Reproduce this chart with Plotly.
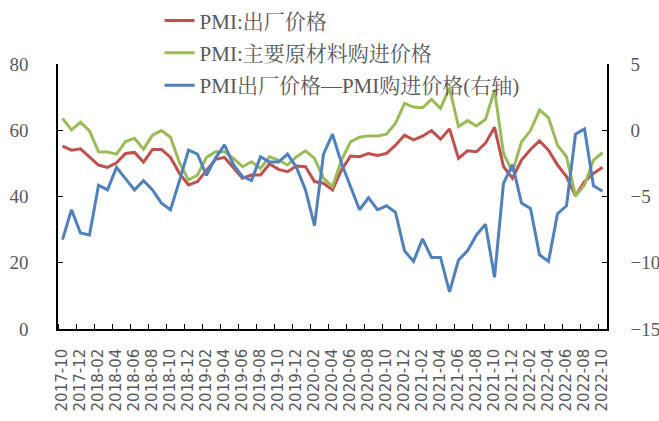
import plotly.graph_objects as go

months = [f"{y}-{m:02d}" for y in range(2017, 2023) for m in range(1, 13)]
months = months[months.index("2017-10"):months.index("2022-10") + 1]

output_price = [55.2, 54.0, 54.4, 52.0, 49.5, 48.8, 50.2, 53.0, 53.3, 50.4,
                54.2, 54.2, 51.8, 47.0, 43.5, 44.5, 48.0, 51.2, 51.8, 48.8,
                45.5, 46.5, 46.5, 49.8, 48.2, 47.5, 49.2, 49.0, 44.5, 44.0,
                42.0, 48.0, 52.2, 52.0, 53.0, 52.4, 53.0, 55.5, 58.5, 57.1,
                58.2, 59.9, 57.3, 60.4, 51.5, 53.8, 53.5, 56.1, 60.9, 49.0,
                45.5, 51.0, 54.2, 56.8, 54.0, 49.5, 46.0, 40.2, 44.5, 47.0,
                48.8]

purchase_price = [63.6, 60.1, 62.4, 59.8, 53.5, 53.4, 52.8, 56.6, 57.6, 54.3,
                  58.5, 59.9, 57.9, 50.2, 45.0, 46.5, 51.8, 53.5, 53.5, 51.5,
                  49.0, 50.5, 48.5, 52.0, 51.0, 49.5, 52.0, 53.8, 51.5, 45.5,
                  43.0, 51.0, 56.5, 57.9, 58.3, 58.3, 58.8, 62.1, 68.1, 67.0,
                  66.8, 69.3, 66.6, 72.7, 61.1, 62.9, 61.3, 63.3, 72.2, 53.0,
                  47.5, 56.5, 59.9, 66.1, 63.8, 55.5, 52.0, 40.2, 43.5, 51.0,
                  53.2]

spread = [-8.25, -6.0, -7.75, -7.9, -4.15, -4.5, -2.8, -3.65, -4.5, -3.8,
          -4.5, -5.5, -6.0, -3.8, -1.5, -1.8, -3.4, -2.1, -1.1, -2.6,
          -3.5, -3.8, -2.0, -2.4, -2.4, -1.8, -2.8, -4.5, -7.2, -1.8,
          -0.3, -2.5, -4.3, -6.0, -5.1, -6.0, -5.7, -6.2, -9.1, -9.9,
          -8.2, -9.6, -9.6, -12.2, -9.8, -9.1, -7.9, -7.1, -11.1, -4.0,
          -2.6, -5.5, -5.9, -9.4, -9.9, -6.3, -5.7, -0.3, 0.1, -4.2,
          -4.6]

names = ["PMI:出厂价格", "PMI:主要原材料购进价格", "PMI出厂价格—PMI购进价格(右轴)"]
colors = ["#C0504D", "#9BBB59", "#4F81BD"]

x = list(range(len(months)))
tick_idx = x[::2]
tick_text = months[::2]

serif = "Liberation Serif, Noto Serif CJK SC, Noto Sans CJK SC, serif"
gray = "#595959"

fig = go.Figure()
fig.add_trace(go.Scatter(x=x, y=output_price, name=names[0], mode="lines",
                         legendgroup="a",
                         line=dict(color=colors[0], width=3)))
fig.add_trace(go.Scatter(x=x, y=purchase_price, name=names[1], mode="lines",
                         legendgroup="b",
                         line=dict(color=colors[1], width=3)))
fig.add_trace(go.Scatter(x=x, y=spread, name=names[2], mode="lines",
                         legendgroup="c",
                         line=dict(color=colors[2], width=3), yaxis="y2"))

fig.update_layout(
    width=659, height=421,
    margin=dict(l=58, r=52, t=64, b=92, autoexpand=False),
    plot_bgcolor="white", paper_bgcolor="white",
    showlegend=True,
    legend=dict(x=0.185, y=1.24, xanchor="left", yanchor="top",
                bgcolor="rgba(0,0,0,0)",
                font=dict(family=serif, size=21, color=gray),
                tracegroupgap=2),
    xaxis=dict(range=[-0.5, len(months) - 0.5],
               tickmode="array", tickvals=tick_idx, ticktext=tick_text,
               tickangle=-90, ticks="",
               tickfont=dict(family="DejaVu Sans, Arial, sans-serif", size=15, color=gray),
               ticklabelstandoff=12,
               showline=True, linecolor="#000000", linewidth=1.5,
               showgrid=False, zeroline=False,
               minor=dict(tickmode="array",
                          tickvals=[i - 0.5 for i in x[::2]] + [len(months) - 0.5],
                          ticks="inside", ticklen=5, tickwidth=1.2, tickcolor="#000000",
                          showgrid=False)),
    yaxis=dict(range=[0, 80], dtick=20, tickmode="linear", tick0=0,
               ticks="inside", ticklen=5, tickwidth=1.2, tickcolor="#000000",
               tickfont=dict(family=serif, size=19, color=gray),
               ticklabelstandoff=24,
               showline=True, linecolor="#000000", linewidth=1.5,
               showgrid=False, zeroline=False),
    yaxis2=dict(range=[-15, 5], dtick=5, tickmode="linear", tick0=-15,
                overlaying="y", side="right",
                ticks="inside", ticklen=5, tickwidth=1.2, tickcolor="#000000",
                tickfont=dict(family=serif, size=19, color=gray),
                ticklabelstandoff=18,
                showline=True, linecolor="#000000", linewidth=1.5,
                showgrid=False, zeroline=False),
)

fig.write_html("out.html", config={"displayModeBar": False},
               post_script="document.body.style.margin='0px';")
